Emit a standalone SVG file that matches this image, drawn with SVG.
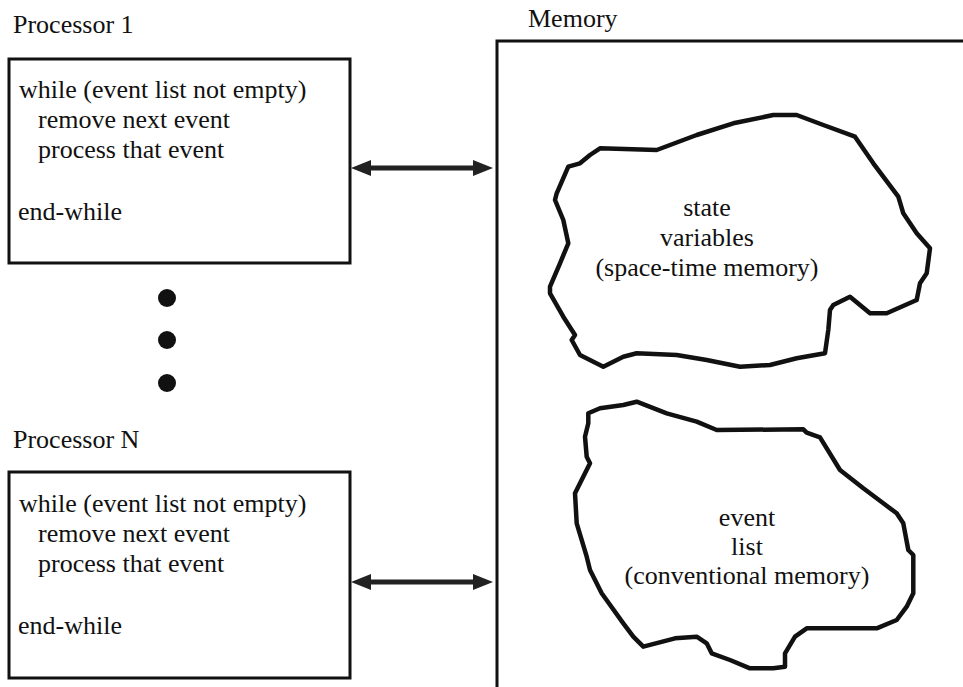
<svg xmlns="http://www.w3.org/2000/svg" width="963" height="687" viewBox="0 0 963 687">
<style>
text{font-family:'Liberation Serif','DejaVu Serif','Times New Roman',serif;font-size:26px;fill:#111}
.box{fill:#fff;stroke:#111;stroke-width:3}
.cloud{fill:#fff;stroke:#111;stroke-width:4.5;stroke-linejoin:round}
.conn{stroke:#222;stroke-width:5;fill:none}
.mid{text-anchor:middle}
</style>
<defs>
<marker id="ah" viewBox="0 0 20 16" refX="2" refY="8" markerWidth="20" markerHeight="16" markerUnits="userSpaceOnUse" orient="auto-start-reverse">
<path d="M0,0 L20,8 L0,16 z" fill="#222"/>
</marker>
</defs>
<rect width="963" height="687" fill="#fff"/>

<g id="processor1" font-family="Liberation Serif, serif">
<text x="13" y="33">Processor 1</text>
<rect class="box" x="9" y="59" width="341" height="204"/>
<text x="19" y="98">while (event list not empty)</text>
<text x="38" y="128">remove next event</text>
<text x="38" y="158">process that event</text>
<text x="18" y="220">end-while</text>
</g>

<g id="ellipsis">
<circle cx="167" cy="298" r="9" fill="#111"/>
<circle cx="167" cy="340" r="9" fill="#111"/>
<circle cx="167" cy="383" r="9" fill="#111"/>
</g>

<g id="processorN">
<text x="13" y="448">Processor N</text>
<rect class="box" x="9" y="472" width="341" height="206"/>
<text x="19" y="512">while (event list not empty)</text>
<text x="38" y="542">remove next event</text>
<text x="38" y="572">process that event</text>
<text x="18" y="634">end-while</text>
</g>

<g id="memory">
<text x="528" y="27">Memory</text>
<path d="M497,687 L497,41 L963,41" fill="none" stroke="#111" stroke-width="3"/>
</g>

<g id="state-variables">
<path class="cloud" d="M600,148.3 L656.7,150 L696.7,135 L733.3,123.3 L773.3,115 L796.7,115 L823.3,125 L855,136.7 L873.3,163.3 L898.3,196.7 L903.3,213.3 L916.7,233.3 L930,248.3 L926.7,273.3 L920,283.3 L916.7,300 L886.7,313.3 L870,313.3 L850,296.7 L833.3,305 L830,310 L828.3,330 L825,353.3 L796.7,358.3 L770,365 L740,366.7 L706.7,360 L676.7,355 L636.7,353.3 L623.3,356.7 L603.3,366.7 L580,355 L571.7,340 L575,335 L563.3,316.7 L550,293.3 L550,286.7 L560,263.3 L568.3,243.3 L563.3,220 L555,200 L556.7,193.3 L568.3,166.7 L580,163.3 L590,155 Z"/>
<text class="mid" x="707" y="216">state</text>
<text class="mid" x="707" y="246">variables</text>
<text class="mid" x="707" y="276">(space-time memory)</text>
</g>

<g id="event-list">
<path class="cloud" d="M588.3,413.3 L600,408.3 L623.3,405 L636.7,401.7 L666.7,413.3 L696.7,421.7 L716.7,430 L803.3,429.3 L806.7,432.7 L820,437.3 L840,470 L863.3,488.3 L883.3,503.3 L896.7,513.3 L903.3,523.3 L908.3,550 L913.3,555 L913.3,593.3 L906.7,606.7 L896.7,620 L876.7,628.3 L806.7,628.3 L795,636.7 L785,653.3 L785,666.7 L773.3,668.3 L750,668.3 L730,660 L711.7,653.3 L706.7,643.3 L696.7,636.7 L675,638.3 L643.3,646.7 L633.3,636.7 L623.3,623.3 L601.7,593.3 L590,570 L586.7,556.7 L576.7,523.3 L575,493.3 L590,463.3 L586.7,456.7 L585,436.7 L588.3,423.3 Z"/>
<text class="mid" x="747" y="526">event</text>
<text class="mid" x="747" y="555">list</text>
<text class="mid" x="747" y="584">(conventional memory)</text>
</g>

<g id="connectors">
<line class="conn" x1="369" y1="168" x2="475" y2="168" marker-start="url(#ah)" marker-end="url(#ah)"/>
<line class="conn" x1="369" y1="582" x2="475" y2="582" marker-start="url(#ah)" marker-end="url(#ah)"/>
</g>
</svg>
